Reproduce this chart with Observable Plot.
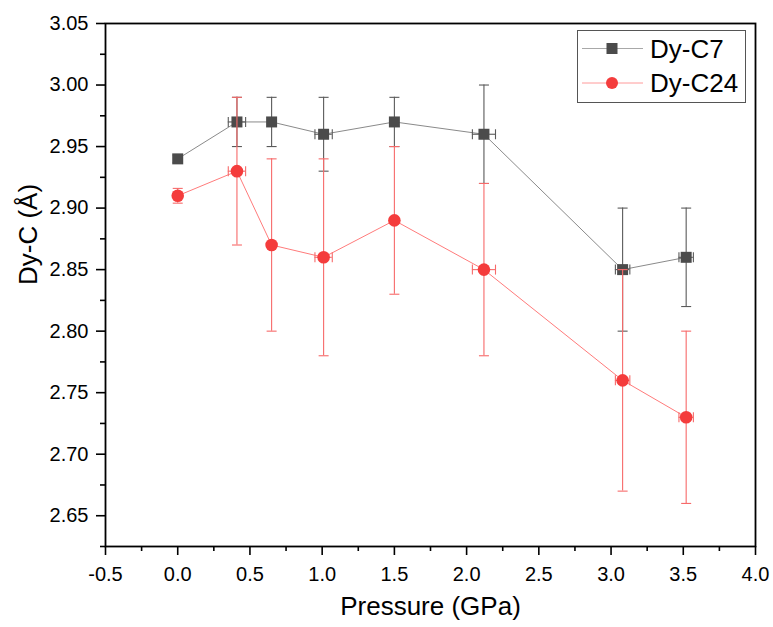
<!DOCTYPE html>
<html>
<head>
<meta charset="utf-8">
<script src="https://cdn.jsdelivr.net/npm/d3@7"></script>
<script src="https://cdn.jsdelivr.net/npm/@observablehq/plot@0.6"></script>
<style>
  body { margin: 0; background: #fff; }
  #wrap { position: relative; width: 773px; height: 627px; font-family: "Liberation Sans", Arial, sans-serif; }
  #legend { position: absolute; left: 577px; top: 30px; }
</style>
</head>
<body>
<div id="wrap"></div>
<script>
// ---- data ----
const pressure    = [0.0, 0.41, 0.65, 1.01, 1.50, 2.12, 3.08, 3.52];
const pressureErr = [0.0, 0.06, 0.0, 0.06, 0.0, 0.08, 0.05, 0.05];
const dyC7        = [2.94, 2.97, 2.97, 2.96, 2.97, 2.96, 2.85, 2.86];
const dyC7Err     = [0.003, 0.02, 0.02, 0.03, 0.02, 0.04, 0.05, 0.04];
const dyC24       = [2.91, 2.93, 2.87, 2.86, 2.89, 2.85, 2.76, 2.73];
const dyC24Err    = [0.006, 0.06, 0.07, 0.08, 0.06, 0.07, 0.09, 0.07];
const seriesNames = ["Dy-C7", "Dy-C24"];
const xTicks = [-0.5, 0.0, 0.5, 1.0, 1.5, 2.0, 2.5, 3.0, 3.5, 4.0];
const xMinorTicks = [-0.25, 0.25, 0.75, 1.25, 1.75, 2.25, 2.75, 3.25, 3.75];
const yTicks = [2.65, 2.70, 2.75, 2.80, 2.85, 2.90, 2.95, 3.00, 3.05];
const yMinorTicks = [2.625, 2.675, 2.725, 2.775, 2.825, 2.875, 2.925, 2.975, 3.025];
const xTitle = "Pressure (GPa)";
const yTitle = "Dy-C (Å)";

const styles = [
  {line: "#8a8a8a", err: "#5a5a5a", fill: "#4b4b4b", symbol: "square", r: 6.2},
  {line: "#ff7b7b", err: "#f76a6a", fill: "#f43c3c", symbol: "circle", r: 6.3}
];

const rows = (ys, es) => pressure.map((x, i) => ({x, y: ys[i], ye: es[i], xe: pressureErr[i]}));
const data = [rows(dyC7, dyC7Err), rows(dyC24, dyC24Err)];

// cap symbols
const hcap = {draw(ctx, size) { const r = Math.sqrt(size / Math.PI); ctx.moveTo(-r, 0); ctx.lineTo(r, 0); }};
const vcap = {draw(ctx, size) { const r = Math.sqrt(size / Math.PI); ctx.moveTo(0, -r); ctx.lineTo(0, r); }};

const marks = [];
data.forEach((d, k) => {
  const s = styles[k];
  const dx = d.filter(r => r.xe > 0);
  marks.push(
    Plot.line(d, {x: "x", y: "y", stroke: s.line, strokeWidth: 1}),
    Plot.ruleX(d, {x: "x", y1: r => r.y - r.ye, y2: r => r.y + r.ye, stroke: s.err, strokeWidth: 1.1}),
    Plot.dot(d, {x: "x", y: r => r.y - r.ye, symbol: hcap, r: 5, fill: "none", stroke: s.err, strokeWidth: 1.1}),
    Plot.dot(d, {x: "x", y: r => r.y + r.ye, symbol: hcap, r: 5, fill: "none", stroke: s.err, strokeWidth: 1.1}),
    Plot.ruleY(dx, {y: "y", x1: r => r.x - r.xe, x2: r => r.x + r.xe, stroke: s.err, strokeWidth: 1.1}),
    Plot.dot(dx, {x: r => r.x - r.xe, y: "y", symbol: vcap, r: 5, fill: "none", stroke: s.err, strokeWidth: 1.1}),
    Plot.dot(dx, {x: r => r.x + r.xe, y: "y", symbol: vcap, r: 5, fill: "none", stroke: s.err, strokeWidth: 1.1}),
    Plot.dot(d, {x: "x", y: "y", symbol: s.symbol, r: s.r, fill: s.fill, stroke: "none"})
  );
});

const chart = Plot.plot({
  width: 773,
  height: 627,
  marginLeft: 105,
  marginRight: 18,
  marginTop: 23,
  marginBottom: 81,
  style: {fontFamily: "'Liberation Sans', Arial, sans-serif", fontSize: "20px", color: "#000", background: "#fff"},
  x: {domain: [-0.5, 4.0]},
  y: {domain: [2.625, 3.05]},
  marks: [
    ...marks,
    Plot.axisX(xTicks, {tickSize: 9, tickPadding: 11, strokeWidth: 1.6, tickFormat: d => d.toFixed(1), label: null}),
    Plot.axisX(xMinorTicks, {tickSize: 5, strokeWidth: 1.6, tickFormat: null, text: null, label: null}),
    Plot.axisY(yTicks, {tickSize: 9, tickPadding: 8, strokeWidth: 1.6, tickFormat: d => d.toFixed(2), label: null}),
    Plot.axisY(yMinorTicks, {tickSize: 5, strokeWidth: 1.6, tickFormat: null, text: null, label: null}),
    Plot.frame({stroke: "#000", strokeWidth: 1.8}),
    Plot.text([xTitle], {frameAnchor: "bottom", dy: 68, fontSize: 26, fill: "#000"}),
    Plot.text([yTitle], {frameAnchor: "left", dx: -77, rotate: -90, fontSize: 26, fill: "#000"})
  ]
});

const wrap = document.getElementById("wrap");
wrap.appendChild(chart);

// legend overlay
const ns = "http://www.w3.org/2000/svg";
const leg = document.createElementNS(ns, "svg");
leg.setAttribute("id", "legend");
leg.setAttribute("width", 170);
leg.setAttribute("height", 74);
let html = `<rect x="0.5" y="0.5" width="168" height="72" fill="#fff" stroke="#555" stroke-width="1"/>`;
const rowY = [18.5, 53];
seriesNames.forEach((name, k) => {
  const s = styles[k];
  const y = rowY[k];
  html += `<line x1="5" x2="66" y1="${y}" y2="${y}" stroke="${k ? "#ff9a9a" : "#a8a8a8"}" stroke-width="1"/>`;
  if (s.symbol === "square") html += `<rect x="${35 - 5.5}" y="${y - 5.5}" width="11" height="11" fill="${s.fill}"/>`;
  else html += `<circle cx="35" cy="${y}" r="6" fill="${s.fill}"/>`;
  html += `<text x="73" y="${y + 9.3}" font-size="26" font-family="'Liberation Sans', Arial, sans-serif" fill="#000">${name}</text>`;
});
leg.innerHTML = html;
wrap.appendChild(leg);
</script>
</body>
</html>
